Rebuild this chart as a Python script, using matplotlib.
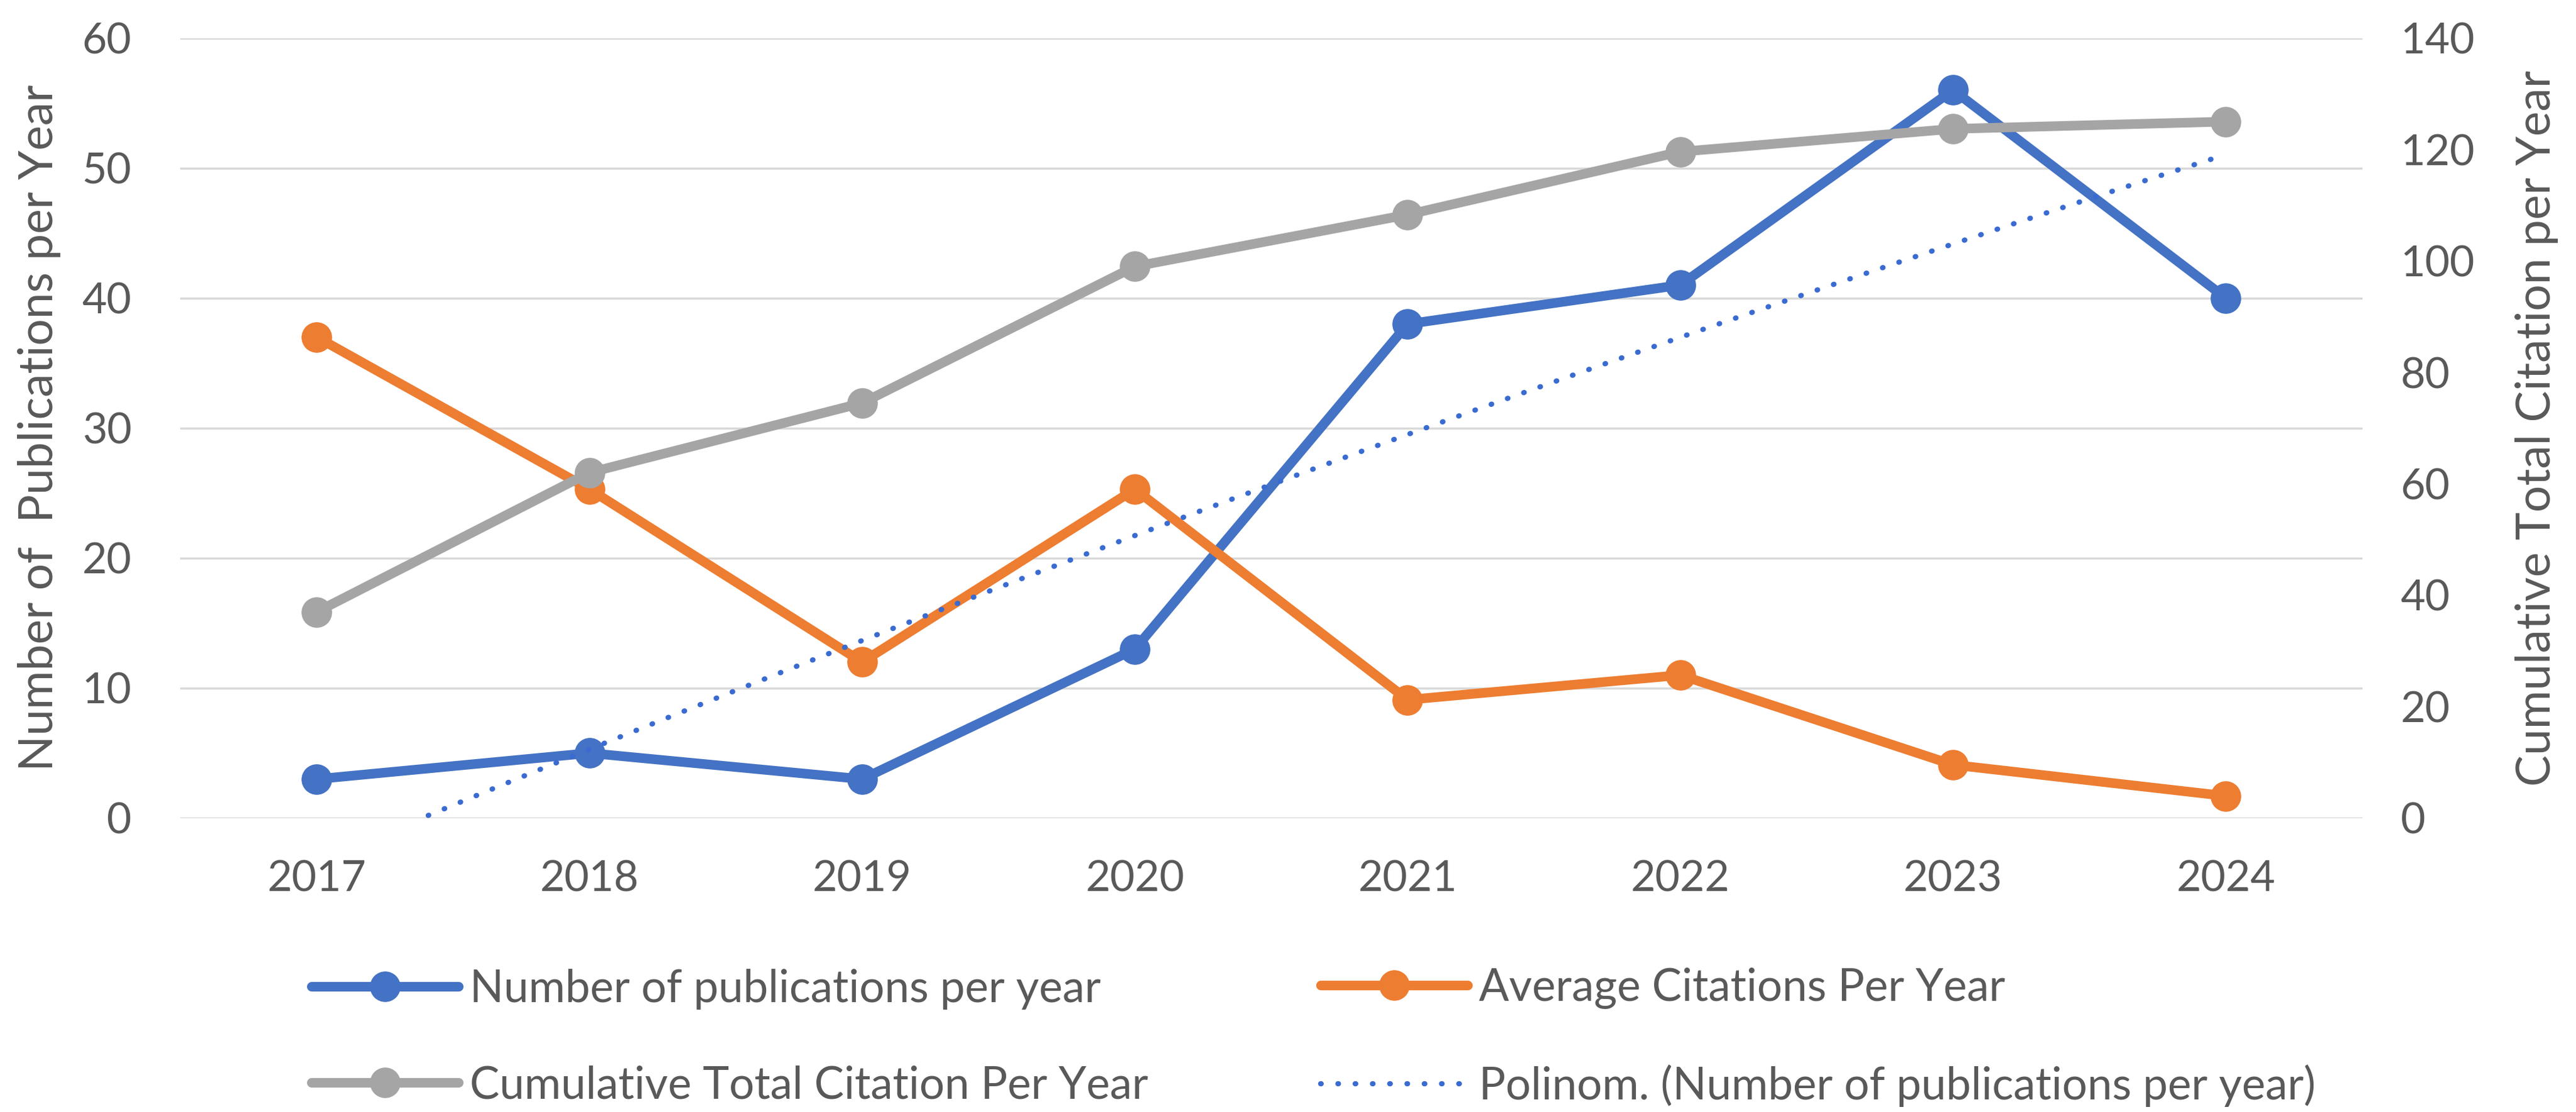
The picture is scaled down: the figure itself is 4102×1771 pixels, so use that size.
import numpy as np
import matplotlib
matplotlib.use("Agg")
import matplotlib.pyplot as plt

plt.rcParams['font.family'] = ['Lato', 'DejaVu Sans']

# data
years = ['2017', '2018', '2019', '2020', '2021', '2022', '2023', '2024']
publications = [3, 5, 3, 13, 38, 41, 56, 40]
avg_citations = [37, 25.3, 12, 25.3, 9.1, 11, 4.1, 1.7]
cumulative = [37, 62, 74.5, 99, 108.3, 119.6, 123.7, 125]

blue = '#4472C4'
orange = '#ED7D31'
gray = '#A5A5A5'
txt = '#595959'

fig = plt.figure(figsize=(41.02, 17.71), dpi=100)
ax = fig.add_axes([0.070, 0.2643, 0.847, 0.7015])
ax2 = ax.twinx()

x = np.arange(len(years))

# polynomial (order 2) trendline of publications, like Excel's
coef = np.polyfit(x, publications, 2)
xt = np.linspace(x[0], x[-1], 200)
yt = np.polyval(coef, xt)

l1, = ax.plot(x, publications, color=blue, lw=11, marker='o', ms=34,
              solid_capstyle='round', zorder=3, label='Number of publications per year')
l2, = ax.plot(x, avg_citations, color=orange, lw=11, marker='o', ms=34,
              solid_capstyle='round', zorder=3, label='Average Citations Per Year')
l4, = ax.plot(xt, yt, color='#3a6bd0', lw=6, linestyle=(0, (0.1, 3.2)),
              dash_capstyle='round', zorder=4,
              label='Polinom. (Number of publications per year)')
l3, = ax2.plot(x, cumulative, color=gray, lw=11, marker='o', ms=34,
               solid_capstyle='round', zorder=3, label='Cumulative Total Citation Per Year')

ax.set_xlim(-0.5, len(years) - 0.5)
ax.set_ylim(0, 60)
ax.set_yticks(np.arange(0, 61, 10))
ax2.set_ylim(0, 140)
ax2.set_yticks(np.arange(0, 141, 20))
ax.set_xticks(x)
ax.set_xticklabels(years)

ax.grid(axis='y', color='#d9d9d9', lw=2.5)
ax.set_axisbelow(True)
for a in (ax, ax2):
    for s in a.spines.values():
        s.set_visible(False)
    a.tick_params(length=0, labelsize=49, labelcolor=txt)
ax.tick_params(axis='y', pad=56)
ax2.tick_params(axis='y', pad=44)
ax.tick_params(axis='x', pad=48)

ax.set_ylabel('Number of  Publications per Year', fontsize=54, color=txt, labelpad=24)
ax2.set_ylabel('Cumulative Total Citation per Year', fontsize=54, color=txt, labelpad=46)

leg_kw = dict(frameon=False, fontsize=51, handlelength=3.3, handletextpad=0.25,
              labelspacing=1.25, borderpad=0, loc='center left', labelcolor=txt)
fig.legend(handles=[l1, l3], bbox_to_anchor=(461 / 4102, 1 - 1652 / 1771), **leg_kw)
fig.legend(handles=[l2, l4], bbox_to_anchor=(2068 / 4102, 1 - 1652 / 1771), **leg_kw)

fig.savefig('out.png', dpi=100, facecolor='white')
